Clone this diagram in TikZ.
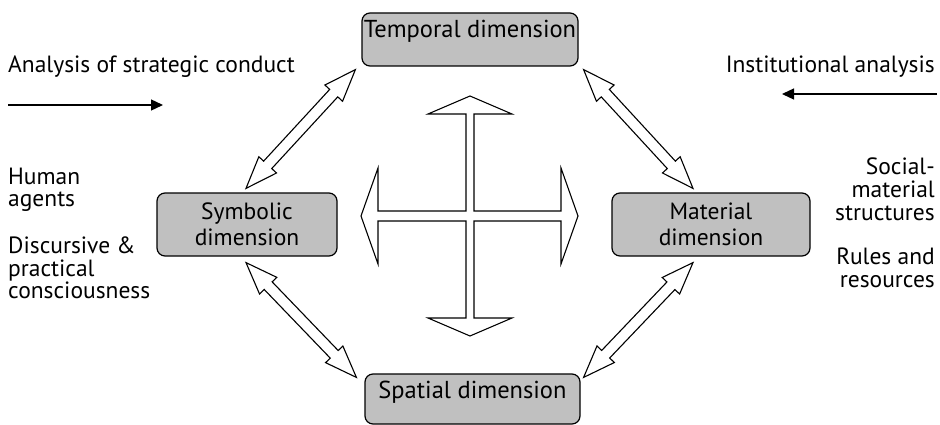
\documentclass[tikz,border=0pt]{standalone}
\usepackage{fontspec}
\setmainfont{PT Sans}
\usetikzlibrary{calc,arrows.meta}
\definecolor{boxgray}{HTML}{C0C0C0}
\tikzset{
  dimbox/.style={draw=black, line width=1.2pt, fill=boxgray, rounded corners=8pt,
    inner sep=0pt, align=center, font=\fontsize{23.5}{26}\selectfont},
  onebox/.style={dimbox, font=\fontsize{24.5}{26}\selectfont},
  sidetext/.style={inner sep=0pt, font=\fontsize{23.5}{23}\selectfont},
  flowarrow/.style={line width=1.3pt, -{Triangle[length=12pt,width=11pt]}},
  hollow/.style={draw=black, line width=1.1pt, fill=white, line join=miter},
}
\newcommand\hollowdbl[2]{%
  \coordinate (da1) at (#1); \coordinate (da2) at (#2);
  \coordinate (dh1) at ($(da1)!32pt!(da2)$);
  \coordinate (dh2) at ($(da2)!32pt!(da1)$);
  \draw[hollow] (da1) -- ($(dh1)!12pt!90:(da2)$) -- ($(dh1)!5.5pt!90:(da2)$)
    -- ($(dh2)!5.5pt!-90:(da1)$) -- ($(dh2)!12pt!-90:(da1)$) -- (da2)
    -- ($(dh2)!12pt!90:(da1)$) -- ($(dh2)!5.5pt!90:(da1)$)
    -- ($(dh1)!5.5pt!-90:(da2)$) -- ($(dh1)!12pt!-90:(da2)$) -- cycle;
}
\begin{document}
\begin{tikzpicture}[x=1pt,y=-1pt]
\useasboundingbox (0,0) rectangle (940,425);

% boxes
\node[onebox, minimum width=216pt, minimum height=53pt, text height=10pt, text depth=13pt]
  (temporal) at (470,39.5) {Temporal dimension};
\node[dimbox, minimum width=180pt, minimum height=63pt] (symbolic) at (247,224.5) {Symbolic\\dimension};
\node[dimbox, minimum width=198pt, minimum height=63pt] (material) at (711,224.5) {Material\\dimension};
\node[onebox, minimum width=215pt, minimum height=50pt, text height=10pt, text depth=12pt]
  (spatial) at (472.5,399) {Spatial dimension};

% side texts
\node[sidetext, anchor=base west] (asc) at (8,73) {Analysis of strategic conduct};
\node[sidetext, anchor=base east] (ia) at (935,73) {Institutional analysis};

\node[sidetext, anchor=base west] (l1) at (8,185) {Human};
\node[sidetext, anchor=base west] (l2) at (8,207) {agents};
\node[sidetext, anchor=base west] (l3) at (8,253) {Discursive \&};
\node[sidetext, anchor=base west] (l4) at (8,276) {practical};
\node[sidetext, anchor=base west] (l5) at (8,298) {consciousness};

\node[sidetext, anchor=base east] (r1) at (935,175) {Social-};
\node[sidetext, anchor=base east] (r2) at (935,197) {material};
\node[sidetext, anchor=base east] (r3) at (935,220) {structures};
\node[sidetext, anchor=base east] (r4) at (935,264) {Rules and};
\node[sidetext, anchor=base east] (r5) at (935,287) {resources};

% flow arrows
\coordinate (ascS) at (8,105); \coordinate (ascE) at (163,105);
\draw[flowarrow] (ascS) -- (ascE);
\coordinate (iaS) at (937,94); \coordinate (iaE) at (782,94);
\draw[flowarrow] (iaS) -- (iaE);

% diagonal double arrows
\hollowdbl{$(temporal.south west)+(-6,3)$}{$(symbolic.north)+(-1,-4)$}
\hollowdbl{$(temporal.south east)+(5,3)$}{$(material.north)+(-18,-4)$}
\hollowdbl{$(symbolic.south)+(-1,6)$}{$(spatial.north west)+(-8,4)$}
\hollowdbl{$(material.south)+(-18,6)$}{$(spatial.north east)+(3,4)$}

% central cross arrow
\draw[hollow] (470,96) -- (512,114) -- (474,114) -- (474,211) -- (561,211) -- (561,168)
  -- (578,216) -- (561,264) -- (561,221) -- (474,221) -- (474,318) -- (512,318)
  -- (470,336) -- (428,318) -- (466,318) -- (466,221) -- (378,221) -- (378,264)
  -- (361,216) -- (378,168) -- (378,211) -- (466,211) -- (466,114) -- (428,114) -- cycle;
\end{tikzpicture}
\end{document}
